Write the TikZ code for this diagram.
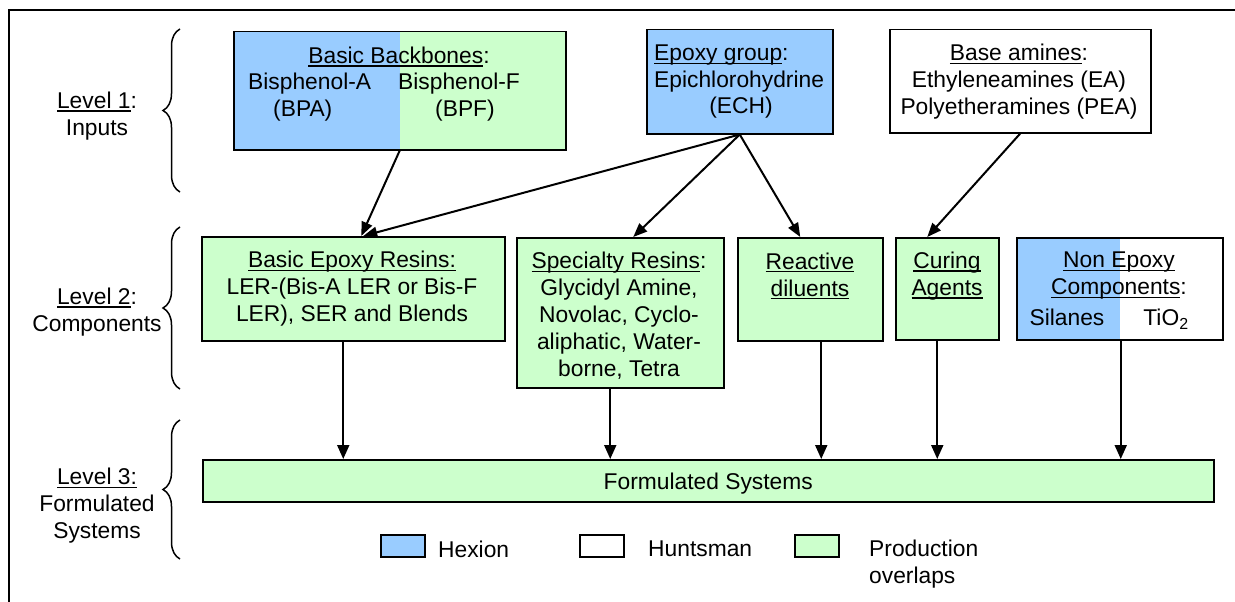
\documentclass[tikz,border=0pt]{standalone}
\usepackage{fontspec}
\setmainfont{Liberation Sans}
\usetikzlibrary{arrows.meta,decorations.pathreplacing}
\definecolor{hexion}{HTML}{99CCFF}
\definecolor{overlap}{HTML}{CCFFCC}
\newsavebox\undlbox
\newcommand{\undl}[1]{\sbox\undlbox{#1}\rlap{\rule[-3.4pt]{\wd\undlbox}{1.6pt}}\usebox\undlbox}

\begin{document}
\begin{tikzpicture}[x=1pt,y=-1pt]
  \tikzset{every node/.style={font=\fontsize{22.8}{27}\selectfont,inner sep=0pt},
    box/.style={draw,line width=1.5pt,anchor=north west},
    halfblue/.style={path picture={\fill[hexion] (path picture bounding box.north west)
      rectangle (path picture bounding box.south);}},
    key/.style={draw,line width=1.5pt,anchor=north west,minimum width=44pt,minimum height=22pt},
    link/.style={line width=2pt,-{Triangle[length=14pt,width=11pt]}},
    feed/.style={line width=2pt,-{Triangle[length=14pt,width=12pt]}},
    grp/.style={decorate,decoration={brace,amplitude=17pt},line width=1.5pt}}
  \useasboundingbox (0,0) rectangle (1235,602);
  \draw[line width=2pt] (9,602) -- (9,10) -- (1235,10);

  \node[align=center] (lv1) at (97,116) {\undl{Level 1}:\\Inputs};
  \node[align=center] (lv2) at (97,312) {\undl{Level 2}:\\Components};
  \node[align=center] (lv3) at (97,506) {\undl{Level 3:}\\Formulated\\Systems};
  \draw[grp] (180,192) -- (180,29);
  \draw[grp] (180,389) -- (180,227);
  \draw[grp] (180,559) -- (180,420);

  \node[box,fill=overlap,halfblue,minimum width=332pt,minimum height=118pt] (bb) at (233,31) {};
  \node (bbt) at (399,57) {\undl{Basic Backbones}:};
  \node[anchor=west,align=left] (bpa) at (248,97) {Bisphenol-A\\\hspace*{25pt}(BPA)};
  \node[anchor=west,align=left] (bpf) at (398,97) {Bisphenol-F\\\hspace*{37pt}(BPF)};
  \node[box,fill=hexion,minimum width=186pt,minimum height=104pt] (ech) at (646,29) {};
  \node[anchor=west,align=left] (echt) at (654,69) {\undl{Epoxy group}:\\Epichlorohydrine};
  \node (echs) at (741,108) {(ECH)};
  \node[box,fill=white,minimum width=261pt,minimum height=103pt] (amn) at (889,29) {};
  \node[align=center] (amnt) at (1019,82) {\undl{Base amines}:\\Ethyleneamines (EA)\\Polyetheramines (PEA)};

  \node[box,fill=overlap,minimum width=303pt,minimum height=104pt] (ber) at (201,236) {};
  \node[align=center] (bert) at (352,289) {\undl{Basic Epoxy Resins:}\\LER-(Bis-A LER or Bis-F\\LER), SER and Blends};
  \node[box,fill=overlap,minimum width=207pt,minimum height=150pt] (spr) at (516,237) {};
  \node[align=center] (sprt) at (619,316) {\undl{Specialty Resins}:\\Glycidyl Amine,\\Novolac, Cyclo-\\aliphatic, Water-\\borne, Tetra};
  \node[box,fill=overlap,minimum width=145pt,minimum height=103pt] (rdl) at (737,237) {};
  \node[align=center] (rdlt) at (810,276) {\undl{Reactive}\\\undl{diluents}};
  \node[box,fill=overlap,minimum width=103pt,minimum height=102pt] (cur) at (895,237) {};
  \node[align=center] (curt) at (947,276) {\undl{Curing}\\\undl{Agents}};
  \node[box,fill=white,halfblue,minimum width=206pt,minimum height=102pt] (nep) at (1016,237) {};
  \node[align=center] (nept) at (1119,276) {\undl{Non Epoxy}\\\undl{Components}:};
  \node (sil) at (1067,317) {Silanes};
  \node (tio) at (1166,319) {TiO\textsubscript{2}};

  \node[box,fill=overlap,text depth=0pt,minimum width=1011pt,minimum height=42pt] (fsy) at (202,459) {Formulated Systems};

  \draw[link] (bb.south) -- ([xshift=8pt]ber.north);
  \draw[link] (ech.south) -- ([xshift=10pt]ber.north);
  \draw[link] (ech.south) -- ([xshift=13pt]spr.north);
  \draw[link] (ech.south) -- ([xshift=-10pt]rdl.north);
  \draw[link] (amn.south) -- ([xshift=-20pt]cur.north);
  \foreach \b/\dx in {ber/-10,spr/-10,rdl/11,cur/-10,nep/1}
    \draw[feed] ([xshift=\dx pt]\b.south) -- ([xshift=\dx pt]\b.south |- fsy.north);

  \node[key,fill=hexion] (kh) at (380,534) {};
  \node[anchor=west] (khl) at (438,549) {Hexion};
  \node[key,fill=white] (ku) at (579,534) {};
  \node[anchor=west] (kul) at (648,549) {Huntsman};
  \node[key,fill=overlap] (ko) at (794,534) {};
  \node[anchor=west,align=left] (kol) at (869,564) {Production\\overlaps};
\end{tikzpicture}
\end{document}
